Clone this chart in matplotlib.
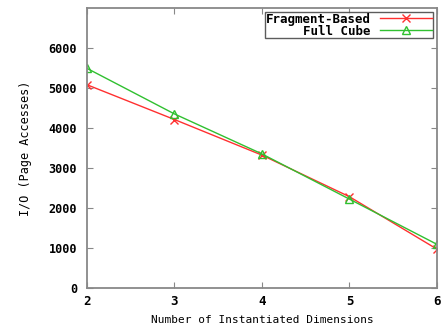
import matplotlib
matplotlib.use("Agg")
import matplotlib.pyplot as plt

# ------------------------------------------
# Data
# ------------------------------------------

dims = [2, 3, 4, 5, 6]
fragment_based = [5080, 4210, 3320, 2280, 970]
full_cube = [5490, 4350, 3350, 2220, 1090]

y_ticks = [0, 1000, 2000, 3000, 4000, 5000, 6000]

# ------------------------------------------
# Figure
# ------------------------------------------

plt.rcParams["font.family"] = ["DejaVu Sans Mono"]
plt.rcParams["font.weight"] = "bold"

fig = plt.figure(figsize=(4.41, 3.28), dpi=100)
ax = fig.add_axes([0.197, 0.122, 0.794, 0.854])

ax.plot(dims, fragment_based, color="#ff3030", lw=1.0, marker="x",
        ms=6, mew=1.0, label="Fragment-Based")
ax.plot(dims, full_cube, color="#30c030", lw=1.0, marker="^",
        ms=6, mew=1.0, mfc="none", label="Full Cube")

ax.set_xlim(2, 6)
ax.set_ylim(0, 7000)
ax.set_xticks(dims)
ax.set_yticks(y_ticks)

for s in ax.spines.values():
    s.set_color("#888888")
    s.set_linewidth(1.3)

ax.tick_params(direction="in", top=True, right=True, length=4,
               color="#888888", labelsize=8.5, pad=7)
ax.tick_params(axis="x", labelsize=9, pad=5)

ax.set_xlabel("Number of Instantiated Dimensions", fontsize=8, labelpad=5)
ax.set_ylabel("I/O (Page Accesses)", fontsize=8.5, labelpad=12)

leg = ax.legend(loc="upper right", markerfirst=False, fontsize=9,
                frameon=True, fancybox=False, borderpad=0.05,
                labelspacing=-0.1, handlelength=4.2, handletextpad=0.7,
                borderaxespad=0.35)
leg.get_frame().set_edgecolor("#333333")
leg.get_frame().set_linewidth(1.0)
for t in leg.get_texts():
    t.set_ha("right")
leg._legend_box.align = "right"

fig.savefig("out.png", dpi=100)
